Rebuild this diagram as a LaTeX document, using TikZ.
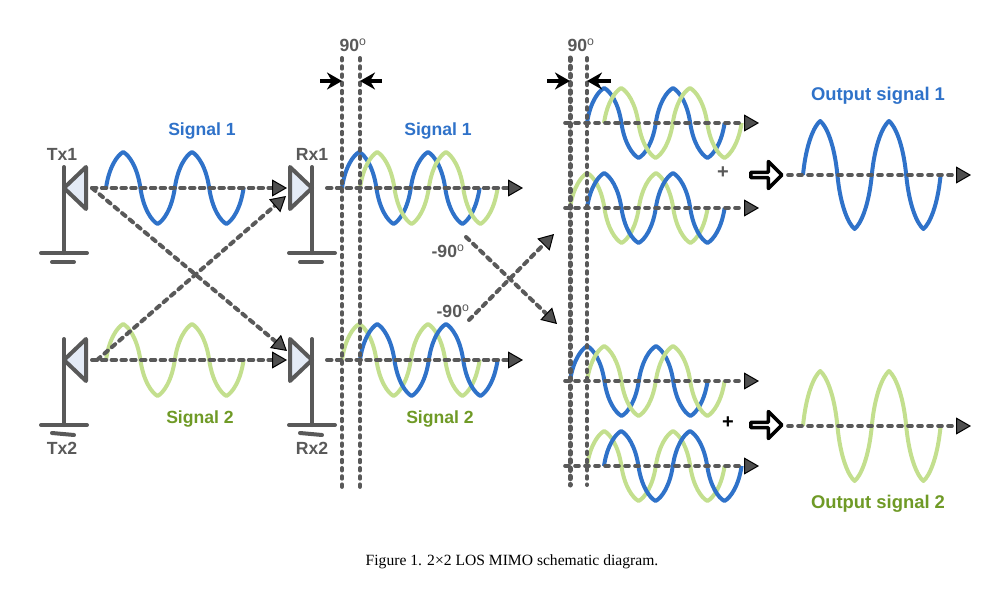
\documentclass[tikz,border=0pt]{standalone}
\usepackage{fontspec}
\setmainfont{Liberation Sans}
\newfontfamily\capfont{Liberation Serif}
\usetikzlibrary{arrows.meta,positioning,shapes.arrows}
\definecolor{Muted}{HTML}{595959}
\definecolor{TipGray}{HTML}{4F4F4F}
\definecolor{Blue}{HTML}{2F72C9}
\definecolor{Lime}{HTML}{C3DF8E}
\definecolor{Olive}{HTML}{6F9A26}
\definecolor{PaleBlue}{HTML}{E4EBF6}
\tikzset{
  label/.style={font=\bfseries\fontsize{17.6}{20}\selectfont,inner sep=0pt},
  graylabel/.style={label,text=Muted},
  bluelabel/.style={label,text=Blue},
  greenlabel/.style={label,text=Olive},
  ant/.style={draw=Muted,line width=4pt,line cap=round,line join=round},
  wave/.style={line width=4pt,line join=round},
  ray/.style={draw=Muted,line width=4pt,line cap=round,dash pattern=on 4.5pt off 5.3pt,
    -{Triangle[length=15pt,width=17pt,line width=1pt,fill=TipGray,color=black]}},
  axisray/.style={ray,line width=3.6pt,dash pattern=on 4pt off 6pt},
  phase/.style={draw=Muted,line width=4pt,line cap=round,dash pattern=on 2.5pt off 5.7pt},
  marker/.style={draw=black,line width=3.5pt,-{Stealth[length=15pt,width=17pt]}},
  blockarrow/.style={single arrow,draw=black,fill=white,line width=3.5pt,inner sep=0pt,
    minimum height=31pt,minimum width=27pt,single arrow head extend=7pt,line join=round}
}
% one half wave, #1 is the height
\newcommand{\halfwave}[1]{.. controls +(3,-.58*#1) and +(-6,.09*#1) .. ++(17.2,-1*#1)
  .. controls +(6,.09*#1) and +(-3,-.58*#1) .. ++(17.2,#1)}
\newcommand{\sigwave}[4]{\draw[wave,#1] (#2,#3) \halfwave{#4} \halfwave{-#4} \halfwave{#4} \halfwave{-#4};}
% position, direction, tilt of the short ground bar
\newcommand{\antenna}[4]{
  \draw[ant] (#1,#2-21) -- (#1,#2+65);
  \draw[ant,fill=PaleBlue] (#1,#2) -- ++(#3*22,-21) -- ++(0,42) -- cycle;
  \draw[ant] (#1-23,#2+65) -- (#1+23,#2+65);
  \draw[ant] (#1-12,#2+74-#4) -- (#1+10,#2+74+#4);
}
\begin{document}
\begin{tikzpicture}[x=1pt,y=-1pt]
  \useasboundingbox (0,0) rectangle (1002,608);

  % waves
  \sigwave{Blue}{106}{188}{36}
  \sigwave{Lime}{106}{360}{36}
  \sigwave{Blue}{342}{188}{36}
  \sigwave{Lime}{360}{188}{36}
  \sigwave{Lime}{342}{360}{36}
  \sigwave{Blue}{360}{360}{36}
  \sigwave{Blue}{587}{123}{35}
  \sigwave{Lime}{604}{123}{35}
  \sigwave{Lime}{570}{208}{35}
  \sigwave{Blue}{587}{208}{35}
  \sigwave{Blue}{570}{381}{35}
  \sigwave{Lime}{587}{381}{35}
  \sigwave{Lime}{587}{466}{35}
  \sigwave{Blue}{604}{466}{35}
  \sigwave{Blue}{803}{175}{54}
  \sigwave{Lime}{803}{426}{55}

  % antennas
  \antenna{64}{188}{1}{0}
  \antenna{64}{360}{1}{1}
  \antenna{312}{188}{-1}{0}
  \antenna{312}{360}{-1}{1}

  % labels
  \node[bluelabel] (sigA) at (202,131) {Signal 1};
  \node[bluelabel] (sigArx) at (438,131) {Signal 1};
  \node[greenlabel] (sigB) at (200,419) {Signal 2};
  \node[greenlabel] (sigBrx) at (440,419) {Signal 2};
  \node[graylabel] (txA) at (62,154) {Tx1};
  \node[graylabel] (rxA) at (312,154) {Rx1};
  \node[graylabel] (txB) at (62,448) {Tx2};
  \node[graylabel] (rxB) at (312,448) {Rx2};
  \node[graylabel] (phA) at (353,45) {90\textsuperscript{\mdseries o}};
  \node[graylabel] (phB) at (581,45) {90\textsuperscript{\mdseries o}};
  \node[graylabel] (negA) at (448,251) {-90\textsuperscript{\mdseries o}};
  \node[graylabel] (negB) at (453,311) {-90\textsuperscript{\mdseries o}};
  \node[graylabel,font=\bfseries\fontsize{20}{20}\selectfont] (plusA) at (723,173) {+};
  \node[label,font=\bfseries\fontsize{20}{20}\selectfont] (plusB) at (728,423) {+};
  \node[bluelabel,font=\bfseries\fontsize{18.4}{20}\selectfont] (outA) at (878,96) {Output signal 1};
  \node[greenlabel,font=\bfseries\fontsize{18.4}{20}\selectfont] (outB) at (878,504) {Output signal 2};
  \node[inner sep=0pt,font=\capfont\fontsize{15.6}{17}\selectfont] (cap) at (512,562)
    {Figure 1. 2×2 LOS MIMO schematic diagram.};

  \node[blockarrow] (sumA) at (765,175) {};
  \node[blockarrow] (sumB) at (765,425) {};

  % ends of the connectors
  \coordinate (txAo) at (92,188);
  \coordinate (txBo) at (92,360);
  \coordinate (txBd) at (97,360);
  \coordinate (rxAi) at (287,188);
  \coordinate (rxAd) at (286,196);
  \coordinate (rxBi) at (287,360);
  \coordinate (rxBd) at (287,351);
  \draw[ray] (txAo) -- (rxAi);
  \draw[ray] (txAo) -- (rxBd);
  \draw[ray] (txBo) -- (rxBi);
  \draw[ray] (txBd) -- (rxAd);

  \coordinate (rxAs) at (327,188);
  \coordinate (rxAe) at (523,188);
  \coordinate (rxBs) at (327,360);
  \coordinate (rxBe) at (523,360);
  \draw[ray] (rxAs) -- (rxAe);
  \draw[ray] (rxBs) -- (rxBe);

  \coordinate (crossAs) at (466,237);
  \coordinate (crossAe) at (557,324);
  \coordinate (crossBs) at (469,320);
  \coordinate (crossBe) at (554,234);
  \draw[ray] (crossAs) -- (crossAe);
  \draw[ray] (crossBs) -- (crossBe);

  \foreach \name/\ypos in {a/123,b/208,c/381,d/466}{
    \coordinate (\name s) at (565,\ypos);
    \coordinate (\name e) at (759,\ypos);
    \draw[axisray] (\name s) -- (\name e);
  }
  \coordinate (outAs) at (788,175);
  \coordinate (outAe) at (971,175);
  \coordinate (outBs) at (788,426);
  \coordinate (outBe) at (971,426);
  \draw[axisray] (outAs) -- (outAe);
  \draw[axisray] (outBs) -- (outBe);

  % phase lines
  \foreach \name/\xpos/\yend/\wid in {p/342/487/4,q/360/487/4,r/570/485/5,s/587/485/4}{
    \coordinate (\name t) at (\xpos,58);
    \coordinate (\name b) at (\xpos,\yend);
    \draw[phase,line width=\wid pt] (\name t) -- (\name b);
  }
  \coordinate (mA) at (320,81);
  \coordinate (mB) at (382,81);
  \coordinate (mC) at (547,81);
  \coordinate (mD) at (611,81);
  \coordinate (pm) at (342,81);
  \coordinate (qm) at (360,81);
  \coordinate (rm) at (570,81);
  \coordinate (sm) at (587,81);
  \draw[marker] (mA) -- (pm);
  \draw[marker] (mB) -- (qm);
  \draw[marker] (mC) -- (rm);
  \draw[marker] (mD) -- (sm);
\end{tikzpicture}
\end{document}
